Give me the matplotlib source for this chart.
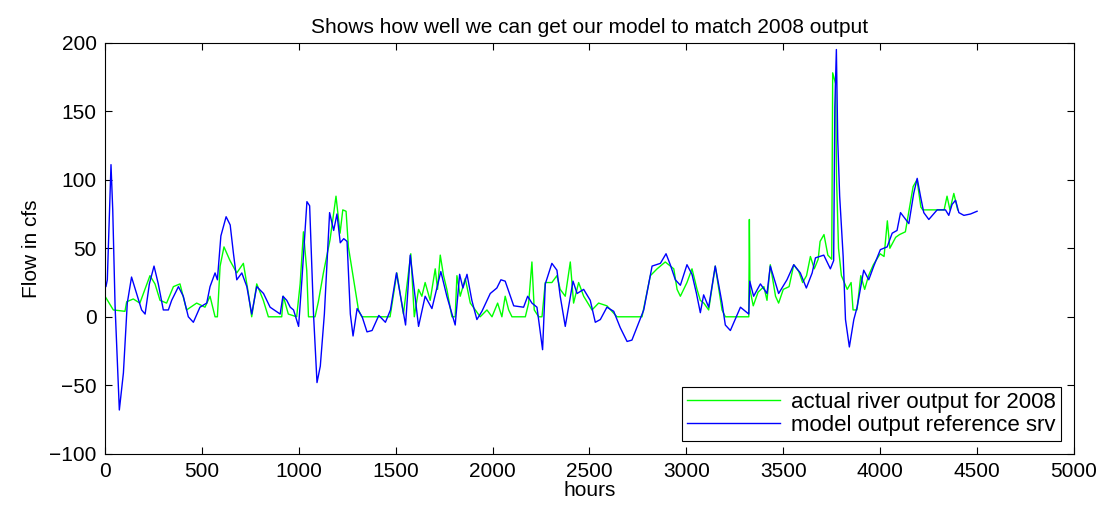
import matplotlib
matplotlib.use("Agg")
import matplotlib.pyplot as plt

model_h = [0,5,12,31,40,52,74,95,115,137,163,189,207,229,253,275,301,327,344,379,404,430,456,490,525,542,568,580,598,625,646,663,680,706,732,757,783,818,852,904,918,938,956,973,999,1016,1042,1056,1076,1094,1111,1132,1159,1180,1197,1214,1232,1249,1266,1280,1301,1327,1352,1378,1413,1447,1473,1504,1525,1551,1575,
 1618,1652,1687,1733,1764,1807,1830,1847,1868,1893,1919,1945,1988,2022,2043,2065,2109,2160,2181,2203,2229,2258,2272,2306,2332,2349,2375,2398,2415,2436,2470,2504,2530,2556,2590,2625,2659,2694,2719,2780,2823,2866,2895,2917,2943,2969,3003,3029,3052,3072,3089,3115,3149,3184,3201,3227,
 3279,3322,3327,3347,3382,3416,3433,3476,3519,3554,3588,3619,3649,3666,3709,3743,3760,3766,3774,3781,3791,3809,3821,3841,3864,3881,3915,3941,3967,4001,4036,4062,4087,4105,4148,4173,4191,4208,4225,4251,4294,4337,4354,4371,4389,4406,4432,4466,4500]
model_v = [25,22,27,111,78,8,-68,-41,10,29,17,5,2,24,37,24,5,5,12,22,15,0,-4,7,10,22,32,27,59,73,67,46,27,32,22,2,22,17,7,2,15,12,7,5,-7,27,84,81,2,-48,-36,2,76,63,75,54,57,55,2,-14,6,0,-11,-10,1,-4,5,32,15,-6,45,
 -7,15,6,33,15,-6,31,21,31,12,-2,4,17,21,27,26,8,7,15,10,7,-24,24,39,34,15,-7,12,26,17,20,12,-4,-2,7,4,-8,-18,-17,5,37,39,46,38,27,23,38,31,17,3,16,7,37,10,-6,-10,
 7,2,26,15,24,17,37,17,27,38,32,21,32,43,45,35,41,153,195,129,88,44,-2,-22,-2,7,34,27,37,49,51,61,63,76,68,90,101,88,76,71,78,78,74,82,85,76,74,75,77]

actual_h = [0,43,103,112,146,180,232,258,284,318,353,387,421,473,516,542,568,580,594,614,645,680,714,740,757,783,817,843,912,920,946,989,1007,1024,1041,1050,1084,1101,1127,1161,1192,1213,1227,1244,1256,1282,1308,1325,1471,1506,1540,1578,
 1596,1618,1635,1652,1678,1704,1716,1730,1747,1764,1790,1807,1816,1833,1859,1885,1911,1936,1971,1997,2026,2048,2065,2083,2100,2169,2186,2203,2215,2238,2255,2272,2306,2332,2349,2375,2401,2418,2444,2470,2513,2547,2590,2642,2771,2814,2849,2891,2935,2952,2969,3003,3029,3055,
 3072,3090,3115,3149,3184,3201,3322,3325,3328,3345,3370,3400,3416,3433,3460,3476,3500,3530,3554,3580,3600,3620,3640,3660,3680,3690,3710,3730,3750,3755,3770,3775,3785,3800,3830,3850,3860,3880,3900,3920,3940,3965,4000,4020,4037,4050,4080,4100,4130,4170,4190,4210,4220,4330,4345,4360,4380,4400]
actual_v = [15,5,4,11,13,10,30,24,12,10,22,24,5,10,7,15,0,0,37,51,41,32,39,17,0,24,12,0,0,15,2,0,24,62,34,0,0,11,32,56,88,61,78,77,51,28,5,0,0,32,2,46,
 0,20,15,25,12,35,20,45,30,20,0,0,30,15,28,10,5,0,5,0,10,0,15,5,0,0,10,40,5,0,0,25,25,30,20,15,40,10,25,15,5,10,8,0,0,30,35,40,35,20,15,25,35,20,
 12,10,5,37,5,0,0,71,20,8,18,22,12,38,15,10,20,22,38,33,25,30,44,35,42,55,60,45,42,178,170,100,50,30,20,25,5,5,30,20,30,38,46,44,70,50,58,60,62,95,100,80,78,78,88,78,90,78]

plt.rcParams['font.family'] = ['Liberation Sans', 'DejaVu Sans']
fig = plt.figure(figsize=(11.04, 5.14), dpi=100)
ax = fig.add_axes([0.0951, 0.117, 0.8777, 0.800])
ax.plot(actual_h, actual_v, color=(0, 1, 0), lw=1.0, label='actual river output for 2008')
ax.plot(model_h, model_v, color=(0, 0, 1), lw=1.0, label='model output reference srv')
ax.set_xlim(0, 5000)
ax.set_ylim(-100, 200)
ax.set_xticks(range(0, 5001, 500))
ax.set_yticks(range(-100, 201, 50))
ax.tick_params(direction='in', top=True, right=True, labelsize=15, length=5, pad=6)
for s in ax.spines.values():
    s.set_linewidth(0.8)
ax.set_xlabel('hours', fontsize=15, labelpad=0)
ax.set_ylabel('Flow in cfs', fontsize=15, labelpad=6)
ax.set_title('Shows how well we can get our model to match 2008 output', fontsize=15, pad=7)
leg = ax.legend(loc='lower right', fontsize=16, fancybox=False, edgecolor='black', framealpha=1,
                handlelength=4.2, handletextpad=0.5, borderaxespad=0.6, borderpad=0.2, labelspacing=0.1)
leg.get_frame().set_linewidth(0.8)
fig.savefig('out.png', dpi=100)
